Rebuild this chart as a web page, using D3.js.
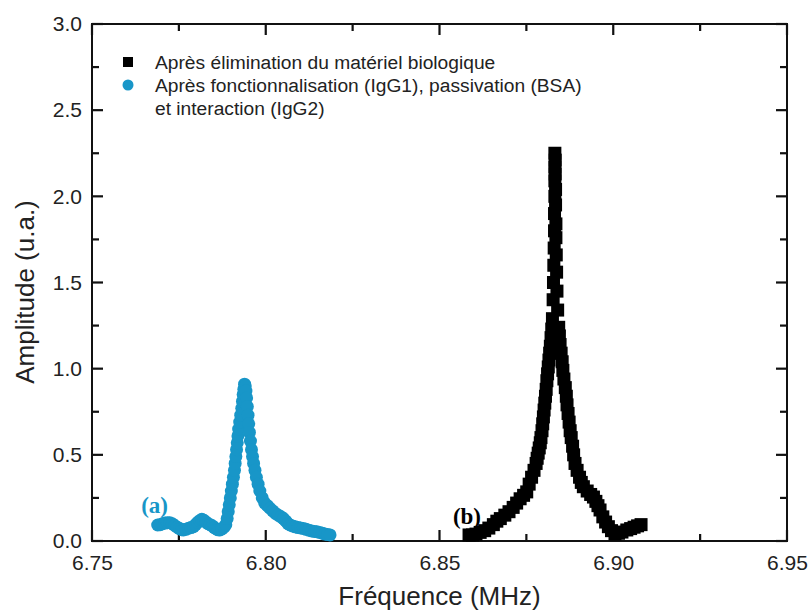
<!DOCTYPE html>
<html>
<head>
<meta charset="utf-8">
<script src="https://cdn.jsdelivr.net/npm/d3@7"></script>
<style>
  body { margin: 0; background: #fff; }
  svg { display: block; }
  .tick-lbl { font-family: "Liberation Sans", Arial, sans-serif; font-size: 21px; fill: #222; }
  .axis-title { font-family: "Liberation Sans", Arial, sans-serif; font-size: 26px; fill: #222; }
  .legend-txt { font-family: "Liberation Sans", Arial, sans-serif; font-size: 19.2px; fill: #222; }
  .annot { font-family: "Liberation Serif", "Times New Roman", serif; font-size: 23px; font-weight: bold; }
</style>
</head>
<body>
<div id="chart"></div>
<script>
  ////// Data /////////////
  var xTicks = [6.75, 6.80, 6.85, 6.90, 6.95];
  var yTicks = [0.0, 0.5, 1.0, 1.5, 2.0, 2.5, 3.0];
  var xMinor = [6.775, 6.825, 6.875, 6.925];
  var yMinor = [0.25, 0.75, 1.25, 1.75, 2.25, 2.75];

  var legendLabels = [
    ["Après élimination du matériel biologique"],
    ["Après fonctionnalisation (IgG1), passivation (BSA)", "et interaction (IgG2)"]
  ];
  var colorA = "#1896c8";  // blue circles, (a)
  var colorB = "#000000";  // black squares, (b)

  // (a) after functionalisation / passivation / interaction : [MHz, amplitude]
  var seriesA = [
    [6.7689,0.093],[6.7696,0.095],[6.7703,0.100],[6.7710,0.104],[6.7717,0.106],[6.7724,0.106],
    [6.7731,0.100],[6.7738,0.090],[6.7745,0.080],[6.7752,0.072],[6.7758,0.066],[6.7763,0.064],
    [6.7770,0.068],[6.7778,0.074],[6.7785,0.078],[6.7792,0.083],[6.7798,0.095],[6.7804,0.108],
    [6.7810,0.118],[6.7816,0.126],[6.7822,0.120],[6.7828,0.110],[6.7834,0.100],[6.7840,0.095],
    [6.7846,0.088],[6.7852,0.078],[6.7858,0.070],[6.7863,0.065],[6.7868,0.064],[6.7874,0.070],
    [6.7880,0.080],[6.7885,0.095],[6.7889,0.130],[6.7892,0.170],[6.7895,0.210],[6.7898,0.250],
    [6.7901,0.290],[6.7904,0.330],[6.7907,0.370],[6.7910,0.410],[6.7912,0.450],[6.7914,0.490],
    [6.7916,0.530],[6.7918,0.570],[6.7920,0.610],[6.7922,0.650],[6.7925,0.690],[6.7928,0.730],
    [6.7931,0.770],[6.7933,0.810],[6.7935,0.850],[6.7937,0.880],[6.7939,0.910],[6.7941,0.900],
    [6.7943,0.870],[6.7945,0.830],[6.7947,0.780],[6.7949,0.730],[6.7951,0.680],[6.7953,0.630],
    [6.7956,0.580],[6.7959,0.530],[6.7962,0.490],[6.7965,0.450],[6.7969,0.410],[6.7973,0.370],
    [6.7978,0.330],[6.7983,0.290],[6.7990,0.250],[6.7997,0.220],[6.8005,0.205],[6.8012,0.190],
    [6.8020,0.175],[6.8028,0.160],[6.8036,0.150],[6.8044,0.140],[6.8051,0.130],[6.8058,0.115],
    [6.8064,0.100],[6.8070,0.093],[6.8077,0.087],[6.8085,0.082],[6.8093,0.078],[6.8100,0.076],
    [6.8108,0.073],[6.8116,0.068],[6.8124,0.063],[6.8132,0.058],[6.8140,0.055],[6.8147,0.054],
    [6.8155,0.050],[6.8163,0.045],[6.8170,0.040],[6.8178,0.037],[6.8185,0.035]
  ];

  // (b) after removal of the biological material : [MHz, amplitude]
  var seriesB = [
    [6.8585,0.035],[6.8595,0.035],[6.8605,0.040],[6.8617,0.050],[6.8630,0.060],[6.8642,0.075],
    [6.8655,0.095],[6.8665,0.115],[6.8675,0.130],[6.8688,0.150],[6.8700,0.170],[6.8712,0.195],
    [6.8722,0.220],[6.8732,0.245],[6.8742,0.265],[6.8751,0.285],[6.8758,0.330],[6.8765,0.370],
    [6.8772,0.410],[6.8778,0.450],[6.8781,0.480],[6.8784,0.510],[6.8787,0.540],[6.8790,0.570],
    [6.8792,0.600],[6.8795,0.640],[6.8797,0.680],[6.8799,0.720],[6.8801,0.760],[6.8803,0.800],
    [6.8805,0.840],[6.8807,0.880],[6.8809,0.930],[6.8811,0.970],[6.8813,1.010],[6.8815,1.050],
    [6.8817,1.090],[6.8819,1.130],[6.8821,1.180],[6.8823,1.230],[6.8825,1.290],[6.8827,1.400],
    [6.8828,1.500],[6.8829,1.600],[6.8830,1.700],[6.8831,1.800],[6.8831,1.900],[6.8832,2.000],
    [6.8832,2.090],[6.8832,2.170],[6.8832,2.250],[6.8833,2.210],[6.8833,2.130],[6.8834,2.040],
    [6.8834,1.950],[6.8835,1.840],[6.8835,1.760],[6.8836,1.660],[6.8837,1.560],[6.8838,1.450],
    [6.8840,1.340],[6.8843,1.240],[6.8845,1.190],[6.8847,1.140],[6.8850,1.090],[6.8853,1.040],
    [6.8855,0.990],[6.8858,0.940],[6.8862,0.890],[6.8865,0.840],[6.8867,0.790],[6.8870,0.740],
    [6.8873,0.690],[6.8876,0.640],[6.8879,0.600],[6.8883,0.550],[6.8886,0.500],[6.8890,0.450],
    [6.8896,0.410],[6.8903,0.370],[6.8908,0.340],[6.8914,0.315],[6.8925,0.290],[6.8935,0.270],
    [6.8943,0.255],[6.8950,0.230],[6.8956,0.205],[6.8962,0.180],[6.8970,0.140],[6.8978,0.110],
    [6.8986,0.083],[6.8995,0.060],[6.9005,0.041],[6.9015,0.045],[6.9025,0.052],[6.9039,0.064],
    [6.9050,0.072],[6.9060,0.080],[6.9070,0.088],[6.9080,0.095]
  ];

  var annotations = [
    {label: "(a)", x: 6.7680, y: 0.16, color: colorA},
    {label: "(b)", x: 6.8579, y: 0.10, color: colorB}
  ];

  ////// Layout /////////////
  var W = 812, H = 614;
  var margin = {top: 24, right: 25, bottom: 73, left: 92};
  var width = W - margin.left - margin.right,
      height = H - margin.top - margin.bottom;
  var majorLen = 11, minorLen = 7, tickW = 2.2;

  var svg = d3.select("#chart").append("svg")
      .attr("width", W)
      .attr("height", H);

  var g = svg.append("g")
      .attr("transform", "translate(" + margin.left + "," + margin.top + ")");

  ////// Scales /////////////
  var xScale = d3.scaleLinear().domain([6.75, 6.95]).range([0, width]);
  var yScale = d3.scaleLinear().domain([0, 3]).range([height, 0]);

  ////// Axis labels (axis generator, no tick lines) /////////////
  var gx = g.append("g")
      .attr("transform", "translate(0," + height + ")")
      .call(d3.axisBottom(xScale).tickValues(xTicks).tickSize(0)
            .tickPadding(14).tickFormat(d3.format(".2f")));
  gx.select(".domain").remove();
  gx.selectAll(".tick text").attr("class", "tick-lbl").attr("font-size", null).attr("font-family", null);

  var gy = g.append("g")
      .call(d3.axisLeft(yScale).tickValues(yTicks).tickSize(0)
            .tickPadding(10).tickFormat(d3.format(".1f")));
  gy.select(".domain").remove();
  gy.selectAll(".tick text").attr("class", "tick-lbl").attr("font-size", null).attr("font-family", null);

  // frame
  g.append("rect")
      .attr("x", 0).attr("y", 0)
      .attr("width", width).attr("height", height)
      .attr("fill", "none")
      .attr("stroke", "#111")
      .attr("stroke-width", 2);

  ////// Tick marks, pointing inward on all four sides /////////////
  var tickG = g.append("g").attr("id", "tickmarks").attr("fill", "#111");

  function xTickMarks(vals, len) {
    vals.forEach(function(v) {
      var px = xScale(v);
      tickG.append("rect").attr("x", px - tickW / 2).attr("y", height - len)
          .attr("width", tickW).attr("height", len);
      tickG.append("rect").attr("x", px - tickW / 2).attr("y", 0)
          .attr("width", tickW).attr("height", len);
    });
  }
  function yTickMarks(vals, len) {
    vals.forEach(function(v) {
      var py = yScale(v);
      tickG.append("rect").attr("x", 0).attr("y", py - tickW / 2)
          .attr("width", len).attr("height", tickW);
      tickG.append("rect").attr("x", width - len).attr("y", py - tickW / 2)
          .attr("width", len).attr("height", tickW);
    });
  }
  xTickMarks(xTicks, majorLen);
  xTickMarks(xMinor, minorLen);
  yTickMarks(yTicks, majorLen);
  yTickMarks(yMinor, minorLen);

  ////// Data marks /////////////
  var sq = 13;
  g.append("g").attr("id", "squares")
      .selectAll("rect")
      .data(seriesB)
      .enter()
      .append("rect")
      .attr("x", function(d) { return xScale(d[0]) - sq / 2; })
      .attr("y", function(d) { return yScale(d[1]) - sq / 2; })
      .attr("width", sq)
      .attr("height", sq)
      .attr("fill", colorB);

  g.append("g").attr("id", "circles")
      .selectAll("circle")
      .data(seriesA)
      .enter()
      .append("circle")
      .attr("cx", function(d) { return xScale(d[0]); })
      .attr("cy", function(d) { return yScale(d[1]); })
      .attr("r", 6.5)
      .attr("fill", colorA);

  ////// Annotations (a), (b) /////////////
  g.selectAll(".annot")
      .data(annotations)
      .enter()
      .append("text")
      .attr("class", "annot")
      .attr("x", function(d) { return xScale(d.x); })
      .attr("y", function(d) { return yScale(d.y); })
      .attr("text-anchor", "middle")
      .attr("fill", function(d) { return d.color; })
      .text(function(d) { return d.label; });

  ////// Legend /////////////
  var leg = g.append("g").attr("transform", "translate(36,38)");
  leg.append("rect").attr("x", -5).attr("y", -5).attr("width", 10).attr("height", 10).attr("fill", colorB);
  leg.append("circle").attr("cx", 0).attr("cy", 23).attr("r", 5.5).attr("fill", colorA);
  var lineY = 0;
  legendLabels.forEach(function(lines) {
    lines.forEach(function(t) {
      leg.append("text")
          .attr("class", "legend-txt")
          .attr("x", 27)
          .attr("y", lineY + 6.5)
          .text(t);
      lineY += 23;
    });
  });

  ////// Axis titles /////////////
  svg.append("text")
      .attr("class", "axis-title")
      .attr("text-anchor", "middle")
      .attr("x", margin.left + width / 2)
      .attr("y", 605)
      .text("Fréquence (MHz)");

  svg.append("text")
      .attr("class", "axis-title")
      .attr("text-anchor", "middle")
      .attr("transform", "translate(34,292) rotate(-90)")
      .text("Amplitude (u.a.)");
</script>
</body>
</html>
